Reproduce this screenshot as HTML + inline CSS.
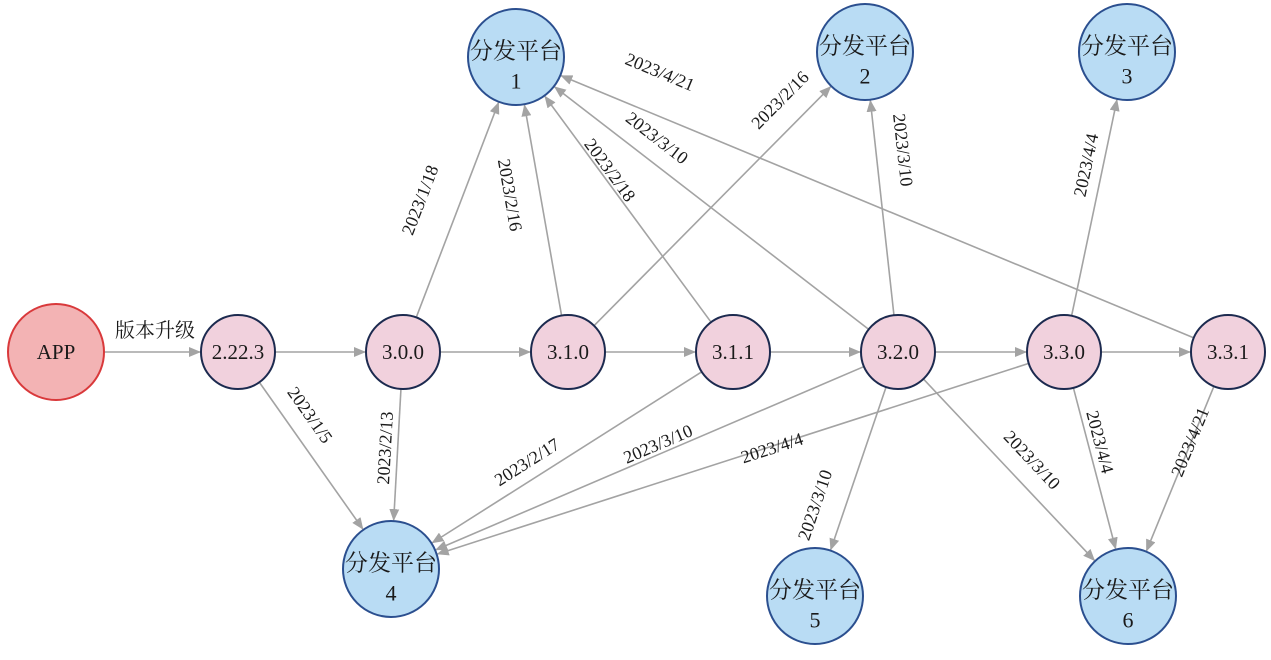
<!DOCTYPE html>
<html><head><meta charset="utf-8"><style>
html,body{margin:0;padding:0;background:#fff;}
svg{display:block;}
text{font-family:"Liberation Serif","Noto Serif CJK SC",serif;fill:#1a1a1a;}
</style></head><body>
<svg id="s" width="1271" height="660" viewBox="0 0 1271 660" xmlns="http://www.w3.org/2000/svg">
<defs><marker id="a" markerWidth="12" markerHeight="10" refX="11" refY="5" orient="auto" markerUnits="userSpaceOnUse"><path d="M0,0 L12,5 L0,10 Z" fill="#a3a3a3"/></marker></defs>
<g id="edges"></g><g id="nodes"></g><g id="labels"></g>
</svg>
<script>
var N={APP:[56,352,48],v1:[238,352,37],v2:[403,352,37],v3:[568,352,37],v4:[733,352,37],v5:[898,352,37],v6:[1064,352,37],v7:[1228,352,37],
P1:[516,57,48],P2:[865,52,48],P3:[1127,52,48],P4:[391,569,48],P5:[815,596,48],P6:[1128,596,48]};
var E=[["APP","v1"],["v1","v2"],["v2","v3"],["v3","v4"],["v4","v5"],["v5","v6"],["v6","v7"],
["v1","P4","2023/1/5",310,415],["v2","P1","2023/1/18",420,200],["v2","P4","2023/2/13",385,448],
["v3","P1","2023/2/16",510,195],["v3","P2","2023/2/16",780,100],["v4","P1","2023/2/18",610,170],
["v4","P4","2023/2/17",527,462],["v5","P1","2023/3/10",657,138],["v5","P2","2023/3/10",903,150],
["v5","P4","2023/3/10",658,444],["v5","P5","2023/3/10",815,505],["v5","P6","2023/3/10",1032,460],
["v6","P3","2023/4/4",1086,165],["v6","P4","2023/4/4",772,448],["v6","P6","2023/4/4",1100,442],
["v7","P1","2023/4/21",660,72],["v7","P6","2023/4/21",1190,442]];
var ns="http://www.w3.org/2000/svg";
function el(t,a,p,txt){var e=document.createElementNS(ns,t);for(var k in a)e.setAttribute(k,a[k]);if(txt)e.textContent=txt;document.getElementById(p).appendChild(e);return e;}
E.forEach(function(e){var s=N[e[0]],t=N[e[1]];var dx=t[0]-s[0],dy=t[1]-s[1],L=Math.hypot(dx,dy),ux=dx/L,uy=dy/L;
el("line",{x1:s[0]+ux*s[2],y1:s[1]+uy*s[2],x2:t[0]-ux*(t[2]+1),y2:t[1]-uy*(t[2]+1),stroke:"#a3a3a3","stroke-width":1.6,"marker-end":"url(#a)"},"edges");
if(e[2]){var ang=Math.atan2(dy,dx)*180/Math.PI;if(ang>90)ang-=180;if(ang<=-90)ang+=180;
el("text",{x:e[3],y:e[4],"font-size":18,"text-anchor":"middle","dominant-baseline":"central",transform:"rotate("+ang.toFixed(1)+" "+e[3]+" "+e[4]+")"},"labels",e[2]);}});
el("text",{x:155,y:331,"font-size":20,"text-anchor":"middle","dominant-baseline":"central"},"labels","版本升级");
for(var k in N){var n=N[k];
if(k=="APP"){el("circle",{cx:n[0],cy:n[1],r:n[2],fill:"#f3b3b4",stroke:"#d9393b","stroke-width":2},"nodes");el("text",{x:n[0],y:n[1],"font-size":21,"text-anchor":"middle","dominant-baseline":"central"},"nodes","APP");}
else if(k[0]=="v"){el("circle",{cx:n[0],cy:n[1],r:n[2],fill:"#f1d1dd",stroke:"#1c2a4f","stroke-width":2},"nodes");}
else{el("circle",{cx:n[0],cy:n[1],r:n[2],fill:"#b9dcf4",stroke:"#2b4f8f","stroke-width":2},"nodes");
el("text",{x:n[0],y:n[1]-6,"font-size":23,"text-anchor":"middle","dominant-baseline":"central"},"nodes","分发平台");
el("text",{x:n[0],y:n[1]+24,"font-size":22,"text-anchor":"middle","dominant-baseline":"central"},"nodes",k.slice(1));}}
var vl={v1:"2.22.3",v2:"3.0.0",v3:"3.1.0",v4:"3.1.1",v5:"3.2.0",v6:"3.3.0",v7:"3.3.1"};
for(var k in vl){var n=N[k];el("text",{x:n[0],y:n[1],"font-size":21,"text-anchor":"middle","dominant-baseline":"central"},"nodes",vl[k]);}
</script>
</body></html>
